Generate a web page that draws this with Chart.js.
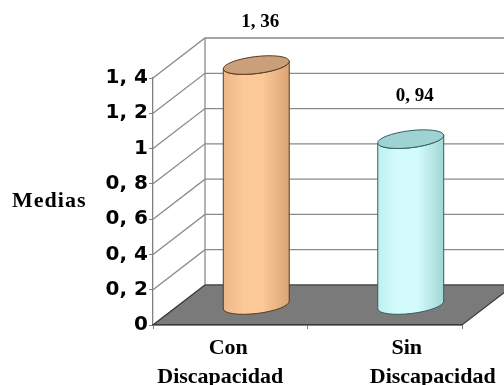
<!DOCTYPE html>
<html>
<head>
<meta charset="utf-8">
<script src="https://cdn.jsdelivr.net/npm/chart.js@4.4.0/dist/chart.umd.min.js"></script>
<style>
  html, body { margin: 0; padding: 0; background: #fff; }
  #wrap { width: 504px; height: 385px; }
</style>
</head>
<body>
<div id="wrap"><canvas id="myChart" width="504" height="385"></canvas></div>
<script>
// categories and means
var categories = ['Con Discapacidad', 'Sin Discapacidad'];
var medias = [1.36, 0.94];
var yTicks = [0, 0.2, 0.4, 0.6, 0.8, 1, 1.2, 1.4];

// cylinder colours: [left, light, right, top, outline]
var palette = [
  ['#eeb686', '#fbc898', '#dba473', '#c9a07a', '#5a3a1e'],
  ['#bdf0f0', '#d4fbfb', '#a3d6d6', '#9fd3d3', '#2f5f5f']
];

// depth of the 3d box
var DX = 52, DY = -40;
// horizontal nudge of each line of the category labels
var labelNudge = [[-2, -10], [22, 48]];

function fmt(v) {
  return String(Math.round(v * 100) / 100).replace('.', ', ');
}

var box3d = {
  id: 'box3d',
  beforeDraw: function (chart) {
    var c = chart.ctx, a = chart.chartArea, ys = chart.scales.y;
    var y0 = ys.getPixelForValue(0);
    c.save();
    // grid on back wall and side wall
    c.strokeStyle = '#8a8a8a';
    c.lineWidth = 1.3;
    yTicks.forEach(function (t) {
      var y = ys.getPixelForValue(t);
      c.beginPath();
      c.moveTo(a.left, y);
      c.lineTo(a.left + DX, y + DY);
      c.lineTo(a.right + DX, y + DY);
      c.stroke();
    });
    c.beginPath();
    c.moveTo(a.left + DX, y0 + DY);
    c.lineTo(a.left + DX, a.top + DY);
    c.stroke();
    // floor
    c.beginPath();
    c.moveTo(a.left, y0);
    c.lineTo(a.right, y0);
    c.lineTo(a.right + DX, y0 + DY);
    c.lineTo(a.left + DX, y0 + DY);
    c.closePath();
    c.fillStyle = '#7a7a7a';
    c.fill();
    c.strokeStyle = '#3a3a3a';
    c.lineWidth = 1.2;
    c.stroke();
    // axis title
    c.fillStyle = '#000';
    c.font = 'bold 22px "Liberation Serif"';
    c.letterSpacing = '1px';
    c.textAlign = 'left';
    c.textBaseline = 'middle';
    c.fillText('Medias', 12, (a.top + a.bottom) / 2);
    c.restore();
  },
  afterDatasetsDraw: function (chart) {
    var c = chart.ctx, ys = chart.scales.y;
    var meta = chart.getDatasetMeta(0);
    c.save();
    meta.data.forEach(function (bar, i) {
      var col = palette[i];
      var cx = bar.x + DX / 2;
      var rx = bar.width / 2, ry = 8.5, rot = -0.12;
      var ex = rx * Math.cos(rot), ey = rx * Math.sin(rot);
      var top = bar.y + DY / 2;
      var base = ys.getPixelForValue(0) + DY / 2;
      var g = c.createLinearGradient(cx - ex, 0, cx + ex, 0);
      g.addColorStop(0, col[0]);
      g.addColorStop(0.3, col[1]);
      g.addColorStop(0.6, col[1]);
      g.addColorStop(1, col[2]);
      // body
      c.beginPath();
      c.moveTo(cx - ex, top - ey);
      c.lineTo(cx - ex, base - ey);
      c.ellipse(cx, base, rx, ry, rot, Math.PI, 0, true);
      c.lineTo(cx + ex, top + ey);
      c.ellipse(cx, top, rx, ry, rot, 0, Math.PI, false);
      c.closePath();
      c.fillStyle = g;
      c.fill();
      c.strokeStyle = col[4];
      c.lineWidth = 1;
      c.stroke();
      // top cap
      c.beginPath();
      c.ellipse(cx, top, rx, ry, rot, 0, Math.PI * 2);
      c.fillStyle = col[3];
      c.fill();
      c.stroke();
      // value label
      c.fillStyle = '#000';
      c.font = 'bold 19px "Liberation Serif"';
      c.textAlign = 'center';
      c.textBaseline = 'middle';
      c.fillText(fmt(medias[i]), cx + 4, top - 43);
    });
    c.restore();
  },
  afterDraw: function (chart) {
    var c = chart.ctx, a = chart.chartArea, xs = chart.scales.x;
    c.save();
    c.fillStyle = '#000';
    c.font = 'bold 22px "Liberation Serif"';
    c.textAlign = 'center';
    c.textBaseline = 'middle';
    categories.forEach(function (name, i) {
      var x = xs.getPixelForValue(i);
      name.split(' ').forEach(function (line, j) {
        c.fillText(line, x + labelNudge[i][j], a.bottom + 23 + j * 29);
      });
    });
    c.restore();
  }
};

var ctx = document.getElementById('myChart').getContext('2d');
var myChart = new Chart(ctx, {
  type: 'bar',
  data: {
    labels: categories,
    datasets: [{
      data: medias,
      backgroundColor: 'rgba(0,0,0,0)',
      borderWidth: 0,
      categoryPercentage: 1,
      barPercentage: 0.43
    }]
  },
  options: {
    responsive: false,
    animation: false,
    layout: { padding: { left: 0, right: 42, top: 78, bottom: 0 } },
    plugins: {
      legend: { display: false },
      tooltip: { enabled: false }
    },
    scales: {
      y: {
        min: 0,
        max: 1.4,
        afterFit: function (s) { s.width = 153; },
        ticks: {
          stepSize: 0.2,
          color: '#000',
          padding: 1,
          font: { family: '"DejaVu Sans"', weight: 'bold', size: 20 },
          callback: function (v) { return fmt(v); }
        },
        grid: { drawOnChartArea: false, tickLength: 4, color: '#808080' },
        border: { color: '#808080', width: 1.3 }
      },
      x: {
        afterFit: function (s) { s.height = 60; },
        ticks: { display: false },
        grid: { drawOnChartArea: false, tickLength: 4, color: '#808080' },
        border: { color: '#3a3a3a', width: 1.2 }
      }
    }
  },
  plugins: [box3d]
});
</script>
</body>
</html>
